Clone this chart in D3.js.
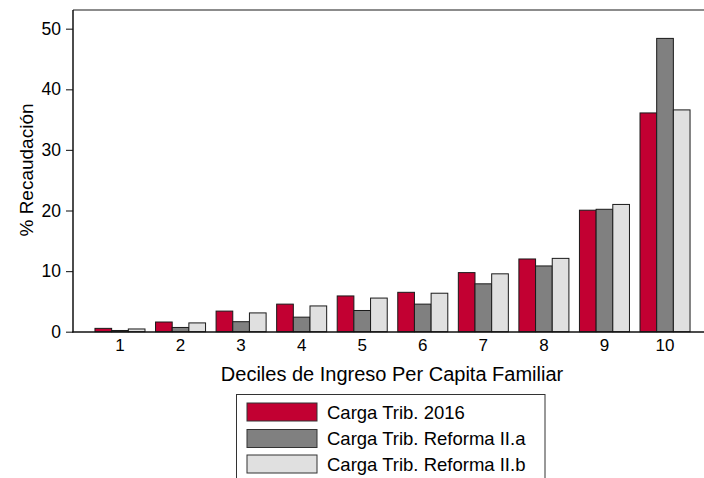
<!DOCTYPE html>
<html><head><meta charset="utf-8">
<script src="https://cdn.jsdelivr.net/npm/d3@7"></script>
<style>body{margin:0;background:#fff}svg{display:block;font-family:"Liberation Sans",Arial,sans-serif}</style>
</head><body><svg id="c" width="704" height="478"></svg>
<script>
const categories = ["1","2","3","4","5","6","7","8","9","10"];
const seriesNames = ["Carga Trib. 2016","Carga Trib. Reforma II.a","Carga Trib. Reforma II.b"];
const carga2016 = [0.55,1.6,3.4,4.55,5.9,6.5,9.75,12.0,20.05,36.1];
const reformaIIa = [0.2,0.7,1.65,2.4,3.5,4.55,7.9,10.85,20.2,48.4];
const reformaIIb = [0.45,1.45,3.1,4.25,5.55,6.35,9.55,12.1,21.0,36.6];
const yTicks = [0,10,20,30,40,50];
const colors = ["#C20032","#808080","#E0E0E0"];
const series = [carga2016, reformaIIa, reformaIIb];

const svg = d3.select("#c");
const y = d3.scaleLinear().domain([0,50]).range([331.7,28.7]);
const x = d3.scaleBand().domain(categories).range([89.7,695.3]).paddingInner(0.174).paddingOuter(0.087);
const xs = d3.scaleBand().domain(d3.range(3)).range([0,x.bandwidth()]);

// top frame line
svg.append("line").attr("x1",73).attr("x2",704).attr("y1",10).attr("y2",10)
  .attr("stroke","#666").attr("stroke-width",1.5);

// bars
categories.forEach((c,i)=>{
  series.forEach((s,k)=>{
    svg.append("rect")
      .attr("x",x(c)+xs(k)).attr("width",xs.bandwidth())
      .attr("y",y(s[i])).attr("height",y(0)-y(s[i]))
      .attr("fill",colors[k]).attr("stroke","#1a1a1a").attr("stroke-width",1);
  });
});

// y axis
const ya = svg.append("g").attr("transform","translate(73,0)")
  .call(d3.axisLeft(y).tickValues(yTicks).tickSize(7).tickPadding(5));
ya.select(".domain").remove();
ya.selectAll(".tick line").attr("stroke","#333").attr("stroke-width",1.2);
ya.selectAll(".tick text").attr("font-size",17.5).attr("fill","#000").attr("font-family","Liberation Sans, Arial, sans-serif");
svg.append("line").attr("x1",73).attr("x2",73).attr("y1",10).attr("y2",332.5).attr("stroke","#111").attr("stroke-width",1.5);

// x axis
const xa = svg.append("g").attr("transform","translate(0,332)")
  .call(d3.axisBottom(x).tickSize(0).tickPadding(7));
xa.select(".domain").remove();
xa.selectAll(".tick text").attr("font-size",17).attr("fill","#000").attr("font-family","Liberation Sans, Arial, sans-serif");
svg.append("line").attr("x1",72.3).attr("x2",704).attr("y1",332).attr("y2",332).attr("stroke","#111").attr("stroke-width",1.5);

// axis titles
svg.append("text").attr("x",392).attr("y",381).attr("text-anchor","middle").attr("font-size",20).text("Deciles de Ingreso Per Capita Familiar");
svg.append("text").attr("transform","translate(33,170) rotate(-90)").attr("text-anchor","middle").attr("font-size",19).text("% Recaudación");

// legend
svg.append("rect").attr("x",236.5).attr("y",394.5).attr("width",308.5).attr("height",100)
  .attr("fill","#fff").attr("stroke","#333").attr("stroke-width",1);
const ly = [403,429.5,455];
seriesNames.forEach((n,k)=>{
  svg.append("rect").attr("x",247).attr("y",ly[k]).attr("width",70).attr("height",18)
    .attr("fill",colors[k]).attr("stroke","#333").attr("stroke-width",1);
  svg.append("text").attr("x",327).attr("y",ly[k]+15.5).attr("font-size",18.5).text(n);
});
</script></body></html>
